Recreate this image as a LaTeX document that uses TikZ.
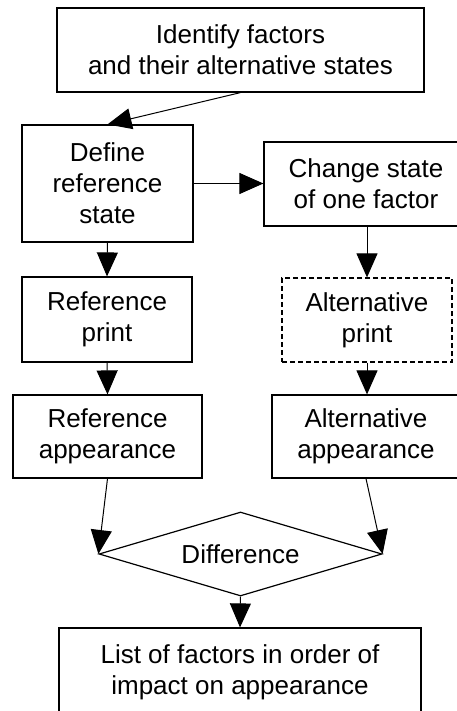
\documentclass[tikz,border=0pt]{standalone}
\usepackage{fontspec}
\setmainfont{Liberation Sans}
\usetikzlibrary{arrows.meta,calc,shapes.geometric}
\tikzset{
	stepbox/.style={draw, line width=1.2pt, align=center, inner sep=0pt, font=\fontsize{26}{31}\selectfont},
	decision/.style={stepbox, diamond, aspect=3.4},
	flow/.style={line width=1pt, -{Triangle[length=24pt,width=21pt]}}
}

\begin{document}
\begin{tikzpicture}[x=1pt, y=-1pt]
			%%%%% START %%%%%
			
			\clip (0, 0) rectangle (457, 711);
			
			\node[stepbox, minimum width=367pt, minimum height=84pt] (ident) at (240.5, 50) {Identify factors\\and their alternative states};
			
			\node[stepbox, minimum width=171pt, minimum height=117pt] (define) at (107.5, 183.5) {Define\\reference\\state};
			\node[stepbox, minimum width=204pt, minimum height=84pt] (change) at (366, 184) {Change state\\of one factor};
			
			\node[stepbox, minimum width=170pt, minimum height=85pt] (refprint) at (107, 319.5) {Reference\\print};
			\node[stepbox, dash pattern=on 5pt off 3pt, minimum width=170pt, minimum height=84pt] (altprint) at (367, 320) {Alternative\\print};
			
			\node[stepbox, minimum width=189pt, minimum height=83pt] (refapp) at (107.5, 436.5) {Reference\\appearance};
			\node[stepbox, minimum width=188pt, minimum height=83pt] (altapp) at (366, 436.5) {Alternative\\appearance};
			
			\node[decision, minimum width=283pt, minimum height=84pt] (diff) at (240.5, 554) {Difference};
			
			\node[stepbox, minimum width=362pt, minimum height=88pt] (list) at (240, 672) {List of factors in order of\\impact on appearance};
			
			\draw[flow] (ident.south) -- (define.north);
			\draw[flow] (define.east) -- (define.east -| change.west);
			\draw[flow] (define.south) -- (refprint.north);
			\draw[flow] (change.south -| altprint.north) -- (altprint.north);
			\draw[flow] (refprint.south) -- (refapp.north);
			\draw[flow] (altprint.south) -- (altprint.south |- altapp.north);
			
			\draw[flow] (refapp.south) -- (diff.west);
			\draw[flow] (altapp.south) -- (diff.east);
			\draw[flow] (diff.south) -- (list.north);
			
			%%%%% END %%%%%
\end{tikzpicture}
\end{document}
